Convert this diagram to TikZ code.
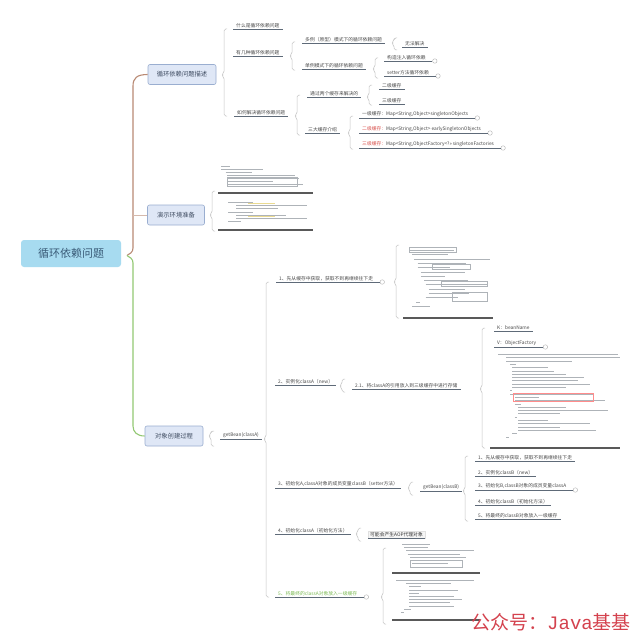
\documentclass[tikz,border=0pt]{standalone}
\usepackage{fontspec}
\setmainfont{Noto Sans CJK SC}
\newfontfamily\wmono{Liberation Mono}
\definecolor{txt}{HTML}{4A4A4A}
\definecolor{ulc}{HTML}{5E6A78}
\definecolor{brcc}{HTML}{C4C4C4}
\definecolor{boxf}{HTML}{DFE7F6}
\definecolor{boxb}{HTML}{9AAED0}
\definecolor{boxt}{HTML}{3E4B60}
\definecolor{rootf}{HTML}{A7DBF0}
\definecolor{roott}{HTML}{3A5C78}
\definecolor{gtxt}{HTML}{7DBB55}
\definecolor{rtxt}{HTML}{D9534F}
\definecolor{brownl}{HTML}{B98A74}
\definecolor{greenl}{HTML}{92C873}
\definecolor{codec}{HTML}{AEB3B8}
\definecolor{hl}{HTML}{EADB92}
\definecolor{wmred}{HTML}{D4424E}
\newcommand\mytopic[4][]{\node[tp,#1] (#2) at (#3) {#4};
  \draw[ul] ([xshift=-3pt]#2.south west) -- ([xshift=3pt]#2.south east);}
\newcommand\mytopici[4][]{\node[tp,#1] (#2) at (#3) {#4};
  \node[icon] (#2i) at ([xshift=9pt]#2.south east) {};
  \draw[ul] ([xshift=-3pt]#2.south west) -- (#2i.west);}
\newcommand\mybrace[4]{\draw[brc] (#1+3,#2) -- (#1,#2) -- (#1,#4-2) -- (#1-2.5,#4) -- (#1,#4+2) -- (#1,#3) -- (#1+3,#3);}
\newcommand\myshot[5]{\foreach \ind/\len [count=\i] in {#4} \draw[code] (#1+\ind*#3,#2+\i*#5) -- ++(\len*#3,0);}
\begin{document}
\begin{tikzpicture}[x=1pt,y=-1pt,
  tp/.style={anchor=south west, inner xsep=0pt, inner ysep=1.1pt, font=\fontsize{4.8}{5.5}\selectfont, text=txt},
  ul/.style={draw=ulc, line width=0.7pt},
  brc/.style={draw=brcc, line width=0.5pt, rounded corners=1.8pt},
  topicbox/.style={draw=boxb, fill=boxf, rounded corners=2pt, line width=0.6pt, minimum height=20pt, font=\fontsize{6.3}{7}\selectfont, text=boxt, inner xsep=3pt},
  root/.style={fill=rootf, rounded corners=3pt, minimum width=100pt, minimum height=27pt, font=\fontsize{11}{12}\selectfont, text=roott},
  code/.style={draw=codec, line width=0.55pt},
  shotul/.style={draw=black!65, line width=1.1pt},
  icon/.style={circle, draw=gray!60, fill=white, inner sep=0pt, minimum size=4.5pt, line width=0.4pt}
]
\useasboundingbox (0,0) rectangle (640,642);
\fill[white] (0,0) rectangle (640,642);

% root and main branches
\node[root] (root) at (71,253.5) {循环依赖问题};
\node[topicbox, minimum width=68pt] (b1) at (182,74.5) {循环依赖问题描述};
\node[topicbox, minimum width=57pt] (b2) at (176,215) {演示环境准备};
\node[topicbox, minimum width=58pt] (b3) at (174,436) {对象创建过程};
\coordinate (tip) at (127,255.5);
\draw[brownl, line width=1.1pt] (b1.west) .. controls (137,74.5) and (133,78) .. (133,86) -- (133,248) .. controls (133,252) and (130,254) .. (tip);
\draw[greenl, line width=1.1pt] (tip) .. controls (130,257) and (133,259) .. (133,263) -- (133,426) .. controls (133,432) and (137,436) .. (b3.west);
\draw[brownl!60, line width=0.8pt] (133,215) -- (b2.west);

% branch 1
\mybrace{224}{29}{116}{75}
\mytopic{a1}{236,29}{什么是循环依赖问题}
\mytopic{a2}{236,56}{有几种循环依赖问题}
\mytopic{a3}{237,116}{如何解决循环依赖问题}
\mybrace{292}{42}{70}{56}
\mytopic{b1a}{305,43}{多例（原型）模式下的循环依赖问题}
\mytopic{b1b}{305,69}{单例模式下的循环依赖问题}
\mybrace{394}{38}{50}{43}
\mytopic{c1}{405,47}{无法解决}
\mybrace{375}{58}{78}{69}
\mytopici{c2}{387,61}{构造注入循环依赖}
\mytopici{c3}{387,76}{setter方法循环依赖}
\mybrace{297}{95}{135}{116}
\mytopic{b2a}{310,97}{通过两个缓存来解决的}
\mytopic{b2b}{308,133}{三大缓存介绍}
\mybrace{369}{85}{105}{97}
\mytopic{c4}{382,89}{二级缓存}
\mytopic{c5}{382,104}{三级缓存}
\mybrace{350}{116}{149}{133}
\mytopici{c6}{362,118}{一级缓存：Map<String,Object>singletonObjects}
\mytopici{c7}{362,133}{\textcolor{rtxt}{二级缓存：}Map<String,Object> earlySingletonObjects}
\mytopici{c8}{362,148}{\textcolor{rtxt}{三级缓存：}Map<String,ObjectFactory<?>> singletonFactories}

% branch 2
\mybrace{212}{191}{231}{215}
\myshot{221}{163}{76}{0/0.12,0/0.55,0.06/0.35,0.08/0.9,0.08/0.95,0.08/0.6,0.08/1.0}{3.1}
\draw[codec, line width=0.4pt] (227,177) rectangle (297,186);
\draw[shotul] (218,193) -- (313,193);
\draw[hl, line width=1.4pt] (248,203.2) -- (275,203.2) (248,215.8) -- (275,215.8);
\myshot{224}{199}{83}{0.05/0.3,0.15/0.85,0.15/0.5,0.05/0.3,0.15/0.6,0.15/0.85,0.05/0.15}{3.2}
\draw[shotul] (218,230) -- (313,230);

% branch 3
\mybrace{211}{431}{446}{436}
\mytopic{g1}{223,439}{getBean(classA)}
\mybrace{266}{282}{597}{439}
\mytopici{d1}{279,282}{1、先从缓存中获取，获取不到再继续往下走}
\mytopic{d2}{278,385}{2、实例化classA（new）}
\mytopic{d3}{278,488}{3、初始化A,classA对象的成员变量classB（setter方法）}
\mytopic{d4}{278,534}{4、初始化classA（初始化方法）}
\mytopici[text=gtxt]{d5}{278,597}{5、将最终的classA对象放入一级缓存}

\mybrace{396}{245}{318}{282}
\draw[hl, line width=1.6pt] (412,250.3) -- (432,250.3);
\myshot{408}{246}{80}{0.03/0.55,0.05/0.45,0.08/0.95,0.12/0.6,0.12/0.4,0.16/0.55,0.16/0.3,0.2/0.55,0.22/0.78,0.26/0.45,0.26/0.5,0.22/0.4,0.1/0.05,0.05/0.22}{4.3}
\draw[codec, line width=0.4pt] (409,247) rectangle (456,252) (432,264.5) rectangle (470,269) (441,281) rectangle (487,286) (452,292) rectangle (487,301);
\draw[shotul] (403,318) -- (493,318);

\mybrace{342}{379}{392}{386}
\mytopic{e1}{355,389}{2.1、将classA的引用放入到三级缓存中进行存储}
\mybrace{482}{328}{448}{389}
\mytopic{f1}{497,331}{K：beanName}
\mytopici{f2}{497,347}{V：ObjectFactory}
\myshot{498}{351}{120}{0/1.0,0.07/0.95,0.07/0.55,0.1/0.05,0.12/0.3,0.12/0.35,0.12/0.45,0.12/0.6,0.12/0.55,0.12/0.65,0.12/0.45,0.1/0.02,0.1/0.7,0.14/0.2,0.14/0.75,0.14/0.05,0.17/0.4,0.17/0.75,0.17/0.35,0.14/0.02,0.17/0.25,0.17/0.6,0.17/0.35,0.17/0.65,0.12/0.04,0.07/0.02}{3.3}
\draw[red!45, line width=0.45pt] (513,393) rectangle (593,401);
\draw[shotul] (490,448) -- (620,448);

\mybrace{410}{482}{495}{488}
\mytopic{g2}{423,491}{getBean(classB)}
\mybrace{465}{456}{521}{491}
\mytopic{h1}{478,461}{1、先从缓存中获取，获取不到再继续往下走}
\mytopic{h2}{478,476}{2、实例化classB（new）}
\mytopici{h3}{478,490}{3、初始化B,classB对象的成员变量classA}
\mytopic{h4}{478,505}{4、初始化classB（初始化方法）}
\mytopic{h5}{478,519}{5、将最终的classB对象放入一级缓存}

\mybrace{358}{528}{541}{534}
\node[anchor=south west, fill=black!4, draw=black!12, line width=0.3pt, inner xsep=2pt, inner ysep=1.2pt, font=\fontsize{4.8}{5.5}\selectfont, text=black!80] (aop) at (368,538) {可能会产生AOP代理对象};
\draw[ulc, line width=1pt] (aop.south west) -- (aop.south east);

\mybrace{383}{548}{624}{597}
\myshot{398}{541}{80}{0.05/0.35,0.08/0.3,0.1/0.85,0.12/0.65,0.15/0.7,0.18/0.55,0.18/0.45}{3.2}
\draw[codec, line width=0.4pt] (410,560) rectangle (462,567);
\draw[shotul] (392,573) -- (480,573);
\myshot{396}{577}{82}{0/0.95,0.12/0.55,0.16/0.15,0.16/0.6,0.16/0.12,0.16/0.55,0.16/0.65,0.16/0.5,0.16/0.55,0.1/0.08,0.06/0.04}{3.2}
\draw[shotul] (392,620) -- (480,620);

% watermark
\node[anchor=south west, inner sep=0pt, text=wmred, font=\fontsize{19}{20}\selectfont] (wm) at (471,631) {公众号：{\wmono Java}基基};
\end{tikzpicture}
\end{document}
